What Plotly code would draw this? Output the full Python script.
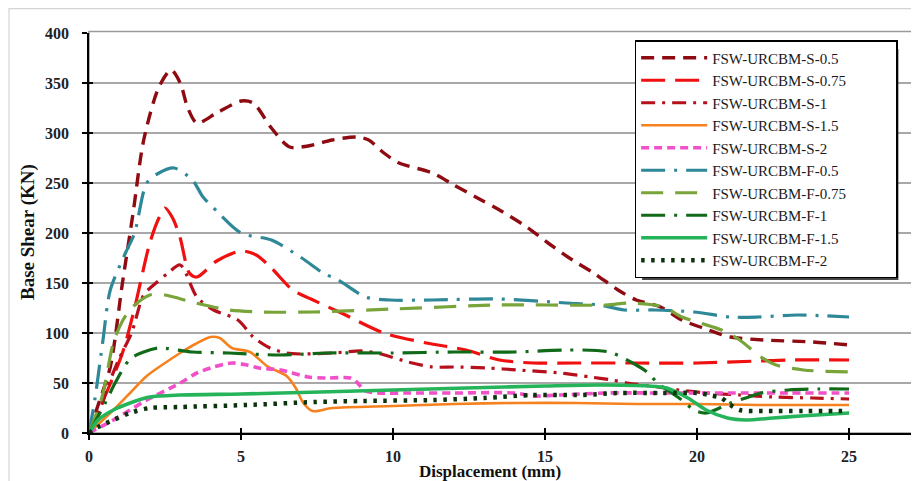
import plotly.graph_objects as go

# ---------------- data ----------------
series_names = ["FSW-URCBM-S-0.5", "FSW-URCBM-S-0.75", "FSW-URCBM-S-1", "FSW-URCBM-S-1.5",
                "FSW-URCBM-S-2", "FSW-URCBM-F-0.5", "FSW-URCBM-F-0.75", "FSW-URCBM-F-1",
                "FSW-URCBM-F-1.5", "FSW-URCBM-F-2"]

s05_x = [0, 0.3, 0.7, 1.1, 1.45, 1.8, 2.3, 2.7, 3.0, 3.25, 3.55, 4.2, 5.0, 5.4, 6.0, 6.6, 7.2, 8.0, 8.8, 9.2,
         9.7, 10.2, 11.3, 12.0, 12.9, 13.5, 14.4, 15.1, 15.9, 16.6, 17.4, 18.0, 18.8, 19.5, 20.2, 21.1,
         22.2, 23.8, 25.0]
s05_y = [0, 28, 66, 150, 220, 293, 346, 363, 350, 325, 310, 320, 332, 330, 305, 286, 287, 293, 296, 293,
         280, 270, 260, 248, 233, 223, 206, 190, 173, 160, 143, 133, 126, 113, 105, 96,
         93, 91, 88]

s075_x = [0, 0.5, 1.1, 1.5, 2.0, 2.3, 2.5, 2.75, 3.0, 3.3, 3.55, 4.2, 5.0, 5.5, 6.0, 6.7, 7.3, 8.3, 9.7,
          11.1, 12.4, 13.5, 14.6, 16.0, 18.0, 20.0, 22.0, 23.0, 25.0]
s075_y = [0, 35, 80, 125, 190, 215, 225, 215, 195, 160, 156, 172, 182, 178, 165, 143, 134, 120, 100,
          90, 83, 73, 70, 70, 70, 70, 72, 73, 73]

s1_x = [0, 0.36, 0.6, 1.0, 1.4, 1.8, 2.2, 2.6, 3.0, 3.55, 4.1, 4.9, 5.4, 5.95, 6.5, 7.0, 8.0, 9.0, 9.6,
        10.5, 11.3, 12.0, 13.1, 14.1, 15.5, 16.5, 17.2, 17.7, 18.7, 19.4, 20.3, 21.4, 22.5, 23.8, 25.0]
s1_y = [0, 23, 45, 75, 100, 138, 150, 160, 168, 136, 123, 113, 96, 85, 80, 79, 80, 82, 79,
        71, 66, 66, 65, 63, 60, 56, 53, 50, 46, 43, 40, 38, 36, 35, 34]

s15_x = [0, 0.8, 1.35, 1.9, 2.5, 3.0, 3.5, 4.0, 4.3, 4.7, 5.3, 5.85, 6.5, 6.8, 7.05, 7.35, 8.0, 10.0,
         12.0, 14.0, 16.0, 18.0, 20.0, 22.0, 25.0]
s15_y = [0, 23, 40, 57, 70, 80, 89, 96, 95, 85, 81, 67, 57, 45, 30, 22, 25, 27,
         29, 30, 30, 29, 29, 28, 28]

s2_x = [0, 0.8, 1.9, 3.0, 3.55, 4.1, 4.7, 5.2, 5.6, 6.3, 7.2, 7.8, 8.6, 8.8, 9.1, 9.5, 10.5, 12.0, 14.0,
        14.6, 15.5, 17.0, 19.0, 21.0, 23.0, 25.0]
s2_y = [0, 13, 33, 50, 60, 66, 70, 68, 65, 63, 56, 55, 55, 51, 42, 40, 40, 40, 40,
        37, 38, 40, 40, 40, 40, 40]

f05_x = [0, 0.2, 0.46, 0.7, 1.2, 1.5, 1.9, 2.3, 2.8, 3.4, 3.75, 4.1, 5.0, 6.0, 7.0, 7.7, 8.2, 9.1, 9.9,
         11.3, 13.5, 15.7, 16.8, 17.6, 18.6, 19.9, 21.1, 22.0, 23.3, 25.0]
f05_y = [0, 35, 93, 143, 180, 200, 250, 260, 265, 253, 236, 225, 200, 193, 175, 160, 153, 136, 133,
         133, 134, 130, 128, 123, 123, 121, 116, 116, 118, 116]

f075_x = [0, 0.43, 0.8, 1.1, 1.4, 2.0, 2.5, 3.5, 4.6, 5.7, 7.4, 10.0, 13.5, 17.0, 17.8, 18.9, 19.5,
          20.1, 20.8, 21.4, 22.1, 22.6, 23.5, 25.0]
f075_y = [0, 36, 90, 112, 125, 138, 138, 130, 123, 121, 121, 124, 128, 128, 130, 126, 116,
          110, 103, 93, 76, 68, 63, 61]

f1_x = [0, 0.5, 0.86, 1.35, 1.8, 2.3, 3.4, 4.6, 6.3, 7.8, 10.0, 12.0, 14.0, 15.7, 17.1, 18.0, 18.4,
        18.7, 19.5, 19.9, 20.3, 21.1, 21.6, 22.1, 23.0, 24.0, 25.0]
f1_y = [0, 28, 50, 74, 81, 85, 81, 80, 78, 80, 80, 81, 81, 83, 81, 68, 60,
        50, 33, 23, 20, 30, 35, 40, 43, 44, 44]

f15_x = [0, 0.3, 0.8, 1.35, 2.0, 3.0, 5.0, 7.6, 10.0, 12.4, 15.0, 16.8, 18.4, 19.0, 19.7, 20.3, 21.0,
         21.6, 22.5, 23.4, 25.0]
f15_y = [0, 13, 23, 30, 36, 38, 39, 41, 43, 45, 47, 48, 47, 45, 35, 23, 15,
         13, 15, 17, 20]

f2_x = [0, 0.3, 0.8, 1.35, 2.0, 3.0, 5.2, 7.4, 9.0, 11.3, 13.0, 14.6, 16.2, 17.4, 18.9, 20.0, 20.4,
        20.8, 21.1, 21.4, 22.2, 23.5, 25.0]
f2_y = [0, 6, 13, 20, 25, 26, 28, 31, 32, 33, 35, 38, 38, 40, 40, 40, 38,
        35, 28, 23, 22, 22, 22]

x_tick_vals = [0, 5, 10, 15, 20, 25]
y_tick_vals = [0, 50, 100, 150, 200, 250, 300, 350, 400]

# ---------------- styling ----------------
xs = [s05_x, s075_x, s1_x, s15_x, s2_x, f05_x, f075_x, f1_x, f15_x, f2_x]
ys = [s05_y, s075_y, s1_y, s15_y, s2_y, f05_y, f075_y, f1_y, f15_y, f2_y]
colors = ["#8E0B12", "#F01010", "#B5101C", "#F5821F", "#F050C8",
          "#2F8898", "#78A43A", "#116A18", "#25B45A", "#0B330D"]
dashes = ["13px,8px", "24px,10px", "14px,7px,3px,7px", "solid", "8px,5px",
          "24px,9px,3px,9px", "22px,12px", "24px,9px,3px,9px", "solid", "3.5px,6.5px"]
widths = [3.4, 3.2, 3.2, 2.6, 3.6, 3.2, 3.2, 3.2, 3.6, 4.5]

serif = "Liberation Serif, Times New Roman, serif"
pad = "\u00a0" * 12   # widens the legend box like the reference

fig = go.Figure()
for n, x, y, c, d, w in zip(series_names, xs, ys, colors, dashes, widths):
    fig.add_trace(go.Scatter(x=x, y=y, name=n + pad, mode="lines",
                             line=dict(color=c, dash=d, width=w, shape="spline", smoothing=0.8)))

# dummy trace so that the overlay axes (inside tick marks) get drawn
fig.add_trace(go.Scatter(x=[None], y=[None], xaxis="x2", yaxis="y2", showlegend=False, hoverinfo="skip"))

XR = [0, 27.07]
YR = [0, 400]

# the page adds an 8px body margin, so the figure is drawn 8px smaller and offset
fig.update_layout(
    template="none",
    width=911, height=473,
    margin=dict(l=81, r=7, t=25, b=48, autoexpand=False),
    paper_bgcolor="white", plot_bgcolor="white",
    showlegend=True,
    legend=dict(x=0.663, y=0.9825, xanchor="left", yanchor="top",
                bgcolor="white", bordercolor="black", borderwidth=1.5,
                font=dict(family=serif, size=15, color="#1a1a1a"),
                itemwidth=66, tracegroupgap=0),
    xaxis=dict(range=XR, tickvals=x_tick_vals, showgrid=False, zeroline=False, automargin=False,
               showline=True, linecolor="black", linewidth=1.8,
               ticks="outside", ticklen=5, tickwidth=1.5, tickcolor="black",
               tickfont=dict(family=serif, size=16, color="#222", weight="bold"),
               ticklabelstandoff=3),
    yaxis=dict(range=YR, tickvals=y_tick_vals, showgrid=True, gridcolor="#A8A8A8", gridwidth=1.6,
               zeroline=False, showline=True, linecolor="black", linewidth=1.8, automargin=False,
               ticks="outside", ticklen=5, tickwidth=1.5, tickcolor="black",
               tickfont=dict(family=serif, size=16, color="#222", weight="bold"),
               ticklabelstandoff=10),
    xaxis2=dict(range=XR, tickvals=x_tick_vals, overlaying="x", anchor="y2", side="bottom",
                showgrid=False, zeroline=False, showline=False, showticklabels=False, automargin=False,
                ticks="inside", ticklen=5, tickwidth=1.5, tickcolor="black"),
    yaxis2=dict(range=YR, tickvals=y_tick_vals, overlaying="y", anchor="x2", side="left",
                showgrid=False, zeroline=False, showline=False, showticklabels=False, automargin=False,
                ticks="inside", ticklen=4, tickwidth=1.5, tickcolor="black"),
    annotations=[
        dict(text="Displacement (mm)", xref="paper", yref="paper", x=0.487, y=-0.095,
             xanchor="center", yanchor="middle", showarrow=False,
             font=dict(family=serif, size=17, color="#111", weight="bold")),
        dict(text="Base Shear (KN)", xref="paper", yref="paper", x=-0.0741, y=0.5025,
             xanchor="center", yanchor="middle", showarrow=False, textangle=-90,
             font=dict(family=serif, size=19, color="#111", weight="bold")),
    ],
    shapes=[
        # outer chart border
        dict(type="rect", xref="paper", yref="paper", x0=-0.0972, x1=1.5, y0=-0.6, y1=1.061,
             line=dict(color="#D4D4D4", width=1.2), layer="below"),
        # plot-area border
        dict(type="rect", xref="paper", yref="paper", x0=0, x1=1, y0=0, y1=1.004,
             line=dict(color="#9A9A9A", width=1.5), layer="below"),
        # legend drop shadow
        dict(type="rect", xref="paper", yref="paper", x0=0.672, x1=0.9835, y0=0.3825, y1=0.96,
             line=dict(width=0), fillcolor="rgba(40,40,40,0.85)", layer="above"),
    ],
)

fig.write_html("out.html")
